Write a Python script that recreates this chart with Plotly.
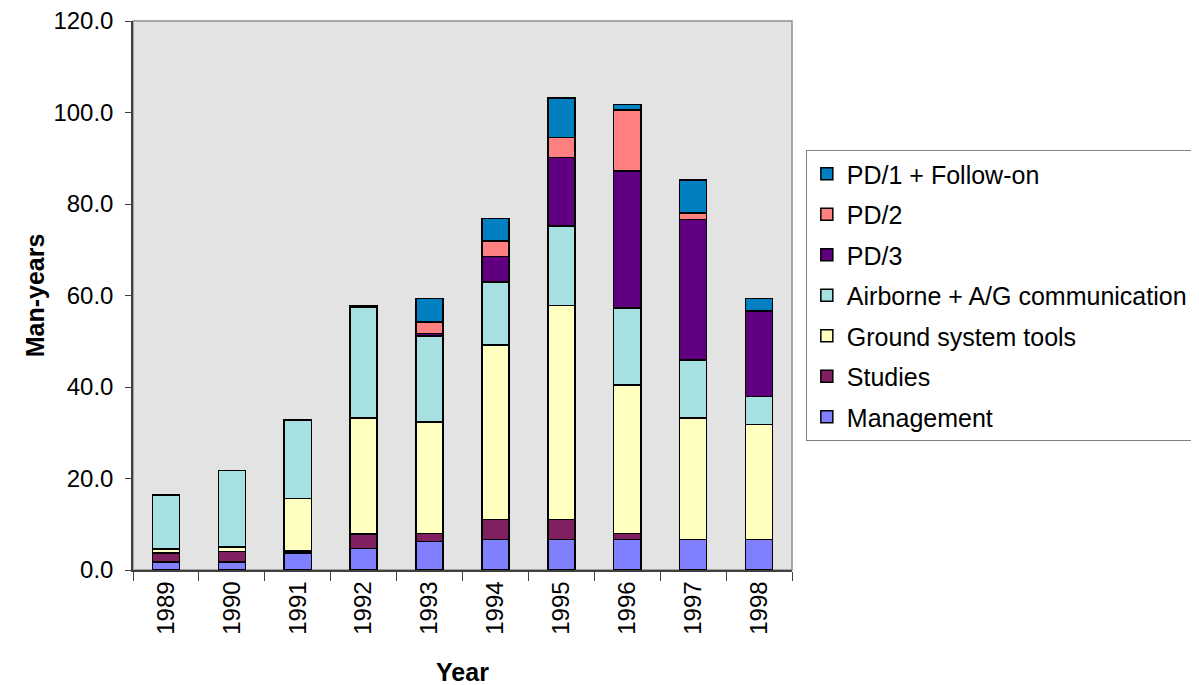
import plotly.graph_objects as go

years = ["1989", "1990", "1991", "1992", "1993", "1994", "1995", "1996", "1997", "1998"]

management = [1.7, 1.8, 3.7, 4.7, 6.2, 6.7, 6.7, 6.7, 6.7, 6.7]
studies = [2.0, 2.2, 0.5, 3.2, 1.8, 4.3, 4.3, 1.3, None, None]
ground = [0.9, 1.0, 11.4, 25.3, 24.4, 38.2, 46.8, 32.4, 26.5, 25.1]
airborne = [11.8, 16.7, 17.2, 24.3, 18.8, 13.7, 17.4, 16.9, 12.7, 6.1]
pd3 = [None, None, None, 0.3, 0.5, 5.6, 15.0, 29.9, 30.7, 18.7]
pd2 = [None, None, None, None, 2.5, 3.4, 4.3, 13.4, 1.4, None]
pd1 = [None, None, None, None, 5.1, 4.9, 8.7, 1.1, 7.3, 2.7]

series = [
    ("Management", management, "#8080FF"),
    ("Studies", studies, "#802060"),
    ("Ground system tools", ground, "#FFFFC0"),
    ("Airborne + A/G communication", airborne, "#A6E0E0"),
    ("PD/3", pd3, "#600080"),
    ("PD/2", pd2, "#FF8080"),
    ("PD/1 + Follow-on", pd1, "#0080C0"),
]

FONT = "Liberation Sans, Arial, sans-serif"

fig = go.Figure()
n = len(series)
for i, (name, vals, color) in enumerate(series):
    fig.add_trace(go.Bar(
        x=years, y=vals, name=name, legendgroup=name,
        legendrank=(n - i) * 10,
        marker=dict(color=color, line=dict(color="black", width=1.5)),
    ))

fig.update_layout(
    barmode="stack",
    bargap=0.59,
    width=1199, height=685,
    autosize=False,
    margin=dict(l=125, r=415, t=13, b=123, autoexpand=False),
    paper_bgcolor="white",
    plot_bgcolor="#E3E3E3",
    font=dict(family=FONT, size=24, color="black"),
    legend=dict(
        traceorder="grouped",
        tracegroupgap=5,
        x=1.021, y=0.765, xanchor="left", yanchor="top",
        bordercolor="#808080", borderwidth=1,
        bgcolor="white",
        font=dict(family=FONT, size=25, color="black"),
    ),
    shapes=[dict(type="rect", xref="paper", yref="paper", x0=0, y0=0, x1=1, y1=1,
                 line=dict(color="#909090", width=1.5), layer="below")],
)

fig.update_xaxes(
    tickangle=-90,
    ticks="outside", tickson="boundaries", ticklen=9, tickcolor="#404040",
    showline=True, linecolor="#404040", linewidth=1.5,
    tickfont=dict(family=FONT, size=24),
    ticklabeloverflow="allow",
    title=dict(text="<b>Year</b>", font=dict(family=FONT, size=25), standoff=30),
)
fig.update_yaxes(
    range=[0, 120], dtick=20, tickformat=".1f",
    ticks="outside", ticklen=6, tickcolor="#404040",
    ticklabelstandoff=7,
    showline=True, linecolor="#404040", linewidth=1.5,
    showgrid=False, zeroline=False,
    tickfont=dict(family=FONT, size=24),
    ticklabeloverflow="allow",
    title=dict(text="<b>Man-years</b>", font=dict(family=FONT, size=25), standoff=2),
)

fig.write_html("out.html")
